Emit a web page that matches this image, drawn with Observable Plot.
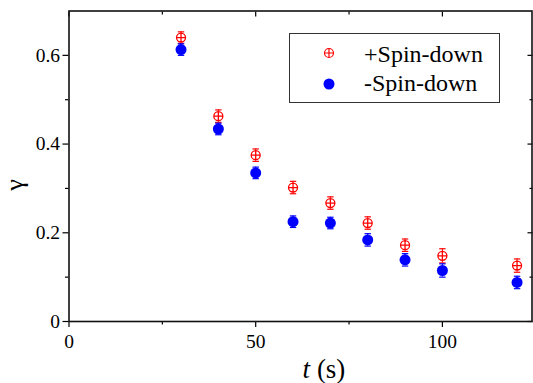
<!DOCTYPE html>
<html><head><meta charset="utf-8">
<script src="https://cdn.jsdelivr.net/npm/d3@7"></script>
<script src="https://cdn.jsdelivr.net/npm/@observablehq/plot@0.6"></script>
<style>
body{margin:0;background:#fff}
#wrap{position:relative;width:533px;height:383px;font-family:'Liberation Serif'}
#legend{position:absolute;left:289px;top:33px;width:209px;height:68px;border:1.5px solid #333;background:#fff;box-sizing:content-box}
#legend svg{position:absolute}
#legend span{position:absolute;font-size:24px;line-height:24px;color:#000;white-space:nowrap;font-family:'Liberation Serif'}
#xlab{position:absolute;left:0;width:533px;text-align:center;top:357px;height:25px;font-size:27px;line-height:25px;padding-left:115px;box-sizing:border-box;font-family:'Liberation Serif'}
#ylab{position:absolute;left:0;top:170px;width:30px;height:30px;text-align:center;font-size:26px;line-height:30px;font-family:'Liberation Serif';transform:rotate(-90deg)}
</style>
</head><body><div id="wrap"><div id="plot"></div>
<div id="legend">
  <svg style="left:32.5px;top:12.5px" width="12" height="12" viewBox="-6 -6 12 12"><circle r="4.5" fill="none" stroke="#ff0000" stroke-width="1.2"/><path d="M-4.5,0H4.5M0,-4.5V4.5" stroke="#ff0000" stroke-width="1.2"/></svg>
  <span style="left:74px;top:7.5px">+Spin-down</span>
  <svg style="left:32.5px;top:44px" width="12" height="12" viewBox="-6 -6 12 12"><circle r="5.5" fill="#0000ff"/></svg>
  <span style="left:74px;top:37px">-Spin-down</span>
</div>
<div id="xlab"><i>t</i> (s)</div>
<div id="ylab">γ</div>
</div>
<script>
const times = [30, 40, 50, 60, 70, 80, 90, 100, 120];
const plusSpin = [0.640, 0.463, 0.375, 0.302, 0.267, 0.222, 0.172, 0.148, 0.126];
const plusErr  = [0.013, 0.014, 0.014, 0.014, 0.014, 0.014, 0.014, 0.016, 0.015];
const minusSpin = [0.613, 0.434, 0.335, 0.225, 0.222, 0.184, 0.139, 0.115, 0.088];
const minusErr  = [0.013, 0.013, 0.013, 0.013, 0.013, 0.014, 0.014, 0.015, 0.014];
const xMajor = [0, 50, 100];
const xMinor = [25, 75];
const yMajor = [0, 0.2, 0.4, 0.6];
const yMinor = [0.1, 0.3, 0.5];
const yLabels = ["0", "0.2", "0.4", "0.6"];

const plus = times.map((t, i) => ({t, v: plusSpin[i], e: plusErr[i]}));
const minus = times.map((t, i) => ({t, v: minusSpin[i], e: minusErr[i]}));

const capSymbol = {draw(ctx, size) { const w = 3.2; ctx.moveTo(-w, 0); ctx.lineTo(w, 0); }};
const crossCircle = {draw(ctx, size) {
  const r = Math.sqrt(size / Math.PI);
  ctx.moveTo(r, 0); ctx.arc(0, 0, r, 0, 2 * Math.PI);
  ctx.moveTo(-r, 0); ctx.lineTo(r, 0);
  ctx.moveTo(0, -r); ctx.lineTo(0, r);
}};

function series(data, color, filled) {
  return [
    Plot.ruleX(data, {x: "t", y1: d => d.v - d.e, y2: d => d.v + d.e, stroke: color, strokeWidth: 1}),
    Plot.dot(data, {x: "t", y: d => d.v + d.e, symbol: capSymbol, r: 3, stroke: color, strokeWidth: 1.2}),
    Plot.dot(data, {x: "t", y: d => d.v - d.e, symbol: capSymbol, r: 3, stroke: color, strokeWidth: 1.2}),
    filled
      ? Plot.dot(data, {x: "t", y: "v", r: 5.5, fill: color, stroke: "none"})
      : Plot.dot(data, {x: "t", y: "v", r: 4.5, symbol: crossCircle, stroke: color, fill: "white", strokeWidth: 1.3})
  ];
}

const fmtY = d => yLabels[yMajor.indexOf(d)];
const blank = () => "";

const chart = Plot.plot({
  width: 533, height: 383,
  marginLeft: 68.5, marginRight: 1.5, marginTop: 10.5, marginBottom: 62,
  style: {fontFamily: "Liberation Serif", background: "white", color: "black"},
  x: {domain: [0, 124]},
  y: {domain: [0, 0.7]},
  marks: [
    Plot.axisX(xMajor, {anchor: "bottom", tickSize: 6, tickPadding: 7, fontSize: 19.5, label: null, tickFormat: d => String(d), strokeWidth: 1.2}),
    Plot.axisX(xMinor, {anchor: "bottom", tickSize: 3.5, tickFormat: blank, label: null, strokeWidth: 1.2}),
    Plot.axisX(xMajor, {anchor: "top", tickSize: -5, tickFormat: blank, label: null, strokeWidth: 1.2}),
    Plot.axisX(xMinor, {anchor: "top", tickSize: -3, tickFormat: blank, label: null, strokeWidth: 1.2}),
    Plot.axisY(yMajor, {anchor: "left", tickSize: 6, tickPadding: 3, fontSize: 19.5, tickFormat: fmtY, label: null, strokeWidth: 1.2}),
    Plot.axisY(yMinor, {anchor: "left", tickSize: 3.5, tickFormat: blank, label: null, strokeWidth: 1.2}),
    Plot.axisY(yMajor, {anchor: "right", tickSize: -5, tickFormat: blank, label: null, strokeWidth: 1.2}),
    Plot.axisY(yMinor, {anchor: "right", tickSize: -3, tickFormat: blank, label: null, strokeWidth: 1.2}),
    Plot.frame({stroke: "#111", strokeWidth: 1.6}),
    ...series(plus, "#ff0000", false),
    ...series(minus, "#0000ff", true)
  ]
});
document.getElementById("plot").appendChild(chart);
</script>
</body></html>
